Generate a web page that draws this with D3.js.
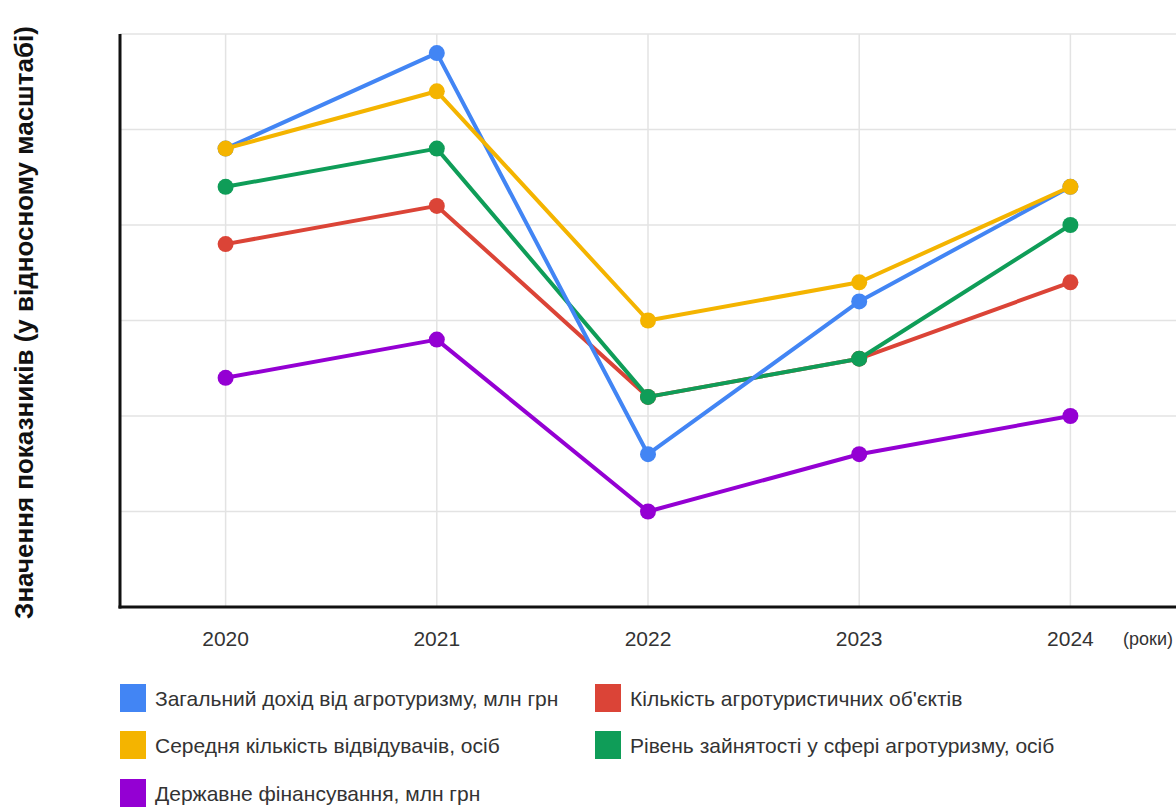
<!DOCTYPE html>
<html lang="uk">
<head>
    <meta charset="UTF-8">
    <title>Агротуризм 2020-2024</title>
    <script src="https://d3js.org/d3.v7.min.js"></script>
    <style>
        body { margin: 0; background: #fff; }
        svg { display: block; font-family: "Liberation Sans", Arial, sans-serif; }
        .grid line { stroke: #e3e3e3; stroke-width: 1.5px; }
        .series-line { fill: none; stroke-width: 4px; stroke-linejoin: round; }
        .tick-label { font-size: 21px; fill: #333; }
        .legend-label { font-size: 21px; fill: #333; }
    </style>
</head>
<body>
    <script>
        // years and series (values in relative units, grid step = 1)
        const years = ["2020", "2021", "2022", "2023", "2024"];
        const seriesNames = [
            "Загальний дохід від агротуризму, млн грн",
            "Кількість агротуристичних об'єктів",
            "Середня кількість відвідувачів, осіб",
            "Рівень зайнятості у сфері агротуризму, осіб",
            "Державне фінансування, млн грн"
        ];
        const seriesColors = ["#4285F4", "#DB4437", "#F4B400", "#0F9D58", "#9400D3"];
        const income    = [4.8, 5.8, 1.6, 3.2, 4.4];
        const objects   = [3.8, 4.2, 2.2, 2.6, 3.4];
        const visitors  = [4.8, 5.4, 3.0, 3.4, 4.4];
        const employees = [4.4, 4.8, 2.2, 2.6, 4.0];
        const funding   = [2.4, 2.8, 1.0, 1.6, 2.0];
        const yTicks = [0, 1, 2, 3, 4, 5, 6];

        // draw order: purple bottom, yellow on top like the reference
        const seriesValues = [income, objects, visitors, employees, funding];
        const drawOrder = [4, 1, 3, 0, 2];

        const width = 1176, height = 808;
        const margin = { left: 120, right: 0, top: 34, bottom: 201 };

        const svg = d3.select("body").append("svg")
            .attr("width", width)
            .attr("height", height);

        const x = d3.scalePoint()
            .domain(years)
            .range([margin.left, width - margin.right])
            .padding(0.5);

        const y = d3.scaleLinear()
            .domain([0, 6])
            .range([height - margin.bottom, margin.top]);

        // grid
        const grid = svg.append("g").attr("class", "grid");
        grid.selectAll("line.h")
            .data(yTicks.slice(1))
            .enter().append("line")
            .attr("class", "h")
            .attr("x1", margin.left).attr("x2", width)
            .attr("y1", d => y(d)).attr("y2", d => y(d));
        grid.selectAll("line.v")
            .data(years)
            .enter().append("line")
            .attr("class", "v")
            .attr("x1", d => x(d)).attr("x2", d => x(d))
            .attr("y1", y(6)).attr("y2", y(0));

        // axes lines
        svg.append("line")
            .attr("x1", margin.left).attr("x2", margin.left)
            .attr("y1", y(6)).attr("y2", y(0) + 1.5)
            .attr("stroke", "#111").attr("stroke-width", 3);
        svg.append("line")
            .attr("x1", margin.left - 1.5).attr("x2", width)
            .attr("y1", y(0)).attr("y2", y(0))
            .attr("stroke", "#111").attr("stroke-width", 3);

        // x tick labels
        svg.selectAll("text.tick-label")
            .data(years)
            .enter().append("text")
            .attr("class", "tick-label")
            .attr("x", d => x(d))
            .attr("y", y(0) + 39)
            .attr("text-anchor", "middle")
            .text(d => d);

        svg.append("text")
            .attr("x", 1123)
            .attr("y", y(0) + 38)
            .attr("font-size", 18)
            .attr("fill", "#333")
            .text("(роки)");

        // y title
        svg.append("text")
            .attr("transform", `translate(33, ${(15 + 630) / 2}) rotate(-90)`)
            .attr("text-anchor", "middle")
            .attr("font-size", 26)
            .attr("font-weight", "bold")
            .attr("fill", "#111")
            .text("Значення показників (у відносному масштабі)");

        // lines and points
        const line = d3.line()
            .x((d, i) => x(years[i]))
            .y(d => y(d));

        drawOrder.forEach(k => {
            const g = svg.append("g");
            g.append("path")
                .attr("class", "series-line")
                .attr("stroke", seriesColors[k])
                .attr("d", line(seriesValues[k]));
            g.selectAll("circle")
                .data(seriesValues[k])
                .enter().append("circle")
                .attr("cx", (d, i) => x(years[i]))
                .attr("cy", d => y(d))
                .attr("r", 8)
                .attr("fill", seriesColors[k]);
        });

        // legend
        const legendPos = [
            { x: 120, y: 684 }, { x: 595, y: 684 },
            { x: 120, y: 731 }, { x: 595, y: 731 },
            { x: 120, y: 779 }
        ];
        const legend = svg.append("g").selectAll("g")
            .data(seriesNames)
            .enter().append("g")
            .attr("transform", (d, i) => `translate(${legendPos[i].x}, ${legendPos[i].y})`);
        legend.append("rect")
            .attr("width", 26).attr("height", 28)
            .attr("fill", (d, i) => seriesColors[i]);
        legend.append("text")
            .attr("class", "legend-label")
            .attr("x", 35)
            .attr("y", 22)
            .text(d => d);
    </script>
</body>
</html>
